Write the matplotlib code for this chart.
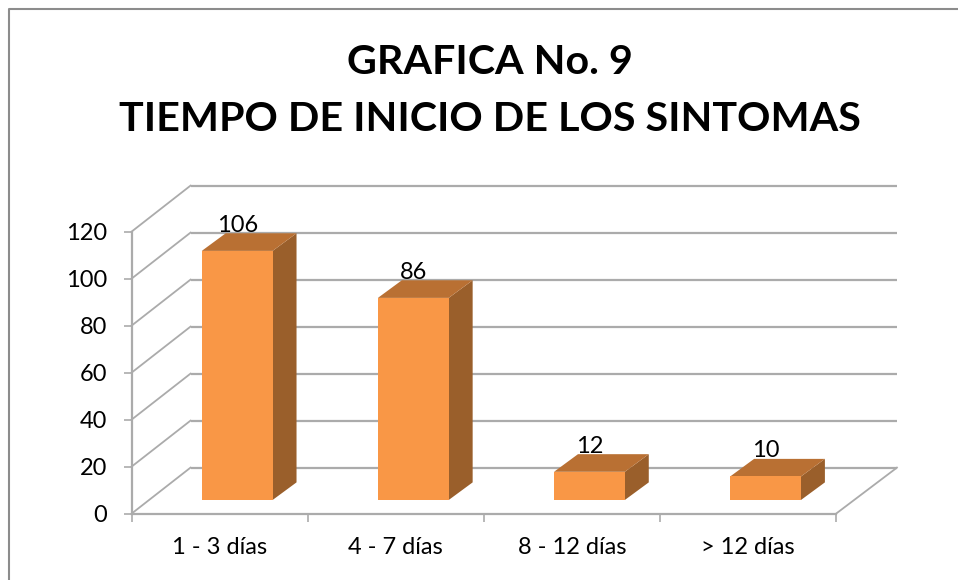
import matplotlib
matplotlib.use("Agg")
import matplotlib.pyplot as plt
from matplotlib.patches import Polygon

categories = ["1 - 3 días", "4 - 7 días", "8 - 12 días", "> 12 días"]
values = [106, 86, 12, 10]
yticks = [0, 20, 40, 60, 80, 100, 120]
title = "GRAFICA No. 9\nTIEMPO DE INICIO DE LOS SINTOMAS"

W, H = 958, 580
GRID = "#ababab"
FRONT = "#f99746"
TOP = "#b97033"
SIDE = "#9a5f2b"

# pixel box of the front plane
LEFT, RIGHT, TOPPX, BOTTOM = 131.5, 836, 231.7, 513.7

# depth of the floor and of the bars, in data units
WALL_DX, WALL_DX_END, WALL_DY = 0.335, 0.346, 19.6
BAR_WIDTH = 0.402
BAR_DX, BAR_DY = 0.136, 7.5
BAR_SHIFT, BAR_LIFT = 0.1, 5.83


def poly(ax, pts, color, z):
    ax.add_patch(Polygon(pts, closed=True, facecolor=color, edgecolor="none",
                         clip_on=False, zorder=z))


plt.rcParams["font.family"] = ["Lato", "DejaVu Sans"]
fig = plt.figure(figsize=(W / 100, H / 100), dpi=100, facecolor="w")
ax = fig.add_axes([LEFT / W, 1 - BOTTOM / H, (RIGHT - LEFT) / W, (BOTTOM - TOPPX) / H])
ax.patch.set_alpha(0)

n = len(categories)
ax.set_xlim(0, n)
ax.set_ylim(0, 120)

# back wall gridlines and the slanted lines on the side wall
for t in yticks:
    ax.plot([WALL_DX, n + WALL_DX_END], [t + WALL_DY, t + WALL_DY], color=GRID, lw=1.6,
            clip_on=False, zorder=1, solid_capstyle="butt")
    ax.plot([0, WALL_DX], [t, t + WALL_DY], color=GRID, lw=1.3, clip_on=False, zorder=1)
ax.plot([n, n + WALL_DX_END], [0, WALL_DY], color=GRID, lw=1.3, clip_on=False, zorder=1)

# bars
for i, v in enumerate(values):
    x0 = i + 0.5 + BAR_SHIFT - BAR_WIDTH / 2
    x1 = x0 + BAR_WIDTH
    y0 = BAR_LIFT
    y1 = BAR_LIFT + v
    ax.bar(x0, v, width=BAR_WIDTH, bottom=BAR_LIFT, align="edge", color=FRONT,
           clip_on=False, zorder=4)
    poly(ax, [(x1, y0), (x1 + BAR_DX, y0 + BAR_DY), (x1 + BAR_DX, y1 + BAR_DY), (x1, y1)], SIDE, 3)
    poly(ax, [(x0, y1), (x1, y1), (x1 + BAR_DX, y1 + BAR_DY), (x0 + BAR_DX, y1 + BAR_DY)], TOP, 3)
    ax.annotate(str(v), (x0 + BAR_WIDTH / 2, y1 + BAR_DY), xytext=(0, 1),
                textcoords="offset points", ha="center", va="baseline", fontsize=17,
                color="k", zorder=6, annotation_clip=False)

for s in ["top", "right"]:
    ax.spines[s].set_visible(False)
for s in ["left", "bottom"]:
    ax.spines[s].set_color(GRID)
    ax.spines[s].set_linewidth(1.6)
    ax.spines[s].set_zorder(2)

ax.set_yticks(yticks)
ax.set_xticks(range(n + 1))
ax.set_xticklabels([])
ax.set_xticks([i + 0.5 for i in range(n)], minor=True)
ax.set_xticklabels(categories, minor=True)
ax.tick_params(axis="x", which="minor", length=0, pad=17, labelsize=17)
ax.tick_params(axis="x", which="major", length=6, width=1.2, color=GRID, direction="out")
ax.tick_params(axis="y", length=6, width=1.2, color=GRID, direction="out", pad=11.5, labelsize=17)

fig.text(490 / W, 1 - 91 / H, title, ha="center", va="center", fontsize=29.7,
         fontweight="bold", color="k", linespacing=1.67)

# chart frame, top and left edges only reach the picture limits
fig.add_artist(plt.Line2D([8.5 / W, 8.5 / W, 1], [0, 1 - 8.5 / H, 1 - 8.5 / H],
                          transform=fig.transFigure, color="#8c8c8c", lw=1.5))

fig.savefig("out.png", dpi=100)
